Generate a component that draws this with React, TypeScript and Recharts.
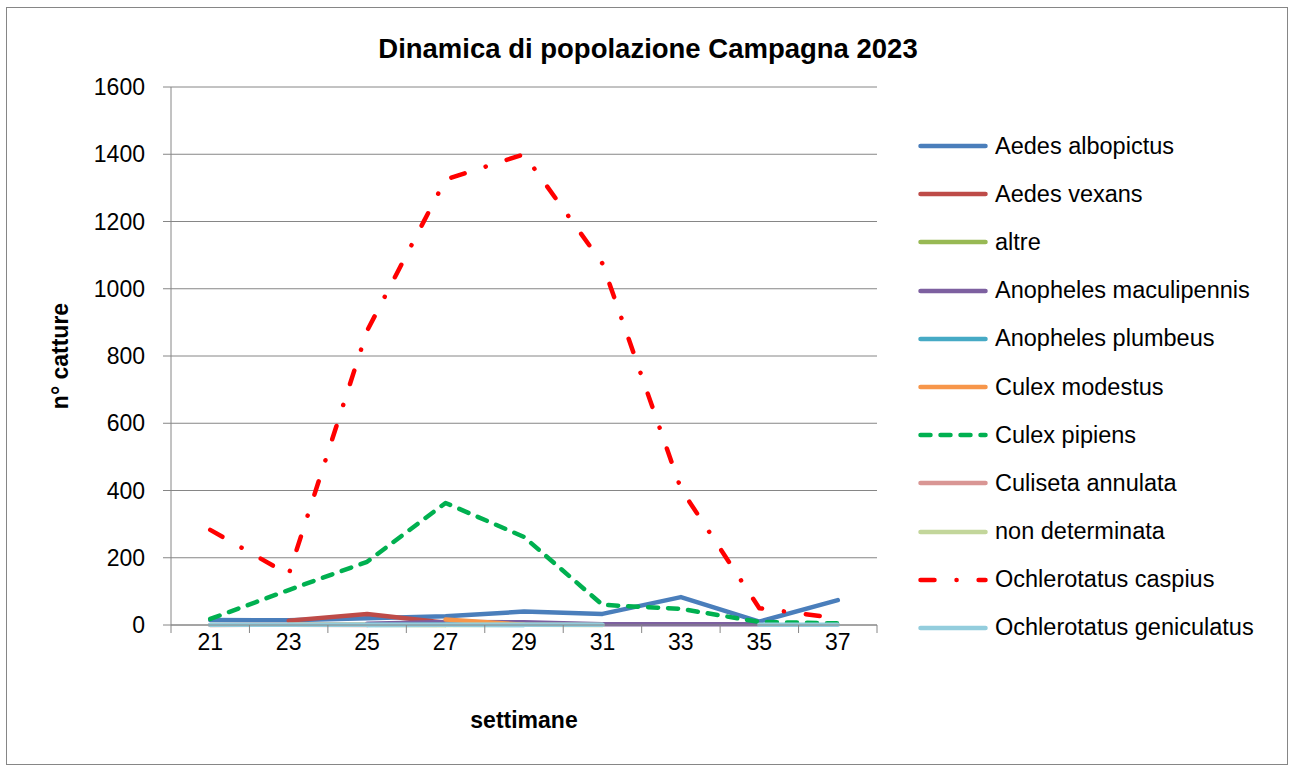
import { LineChart, Line, XAxis, YAxis, CartesianGrid, Legend } from "recharts";

const WEEKS = [21, 23, 25, 27, 29, 31, 33, 35, 37];
// category boundaries (Excel puts tick marks between categories)
const X_TICKS = [20, 21, 22, 23, 24, 25, 26, 27, 28, 29, 30, 31, 32, 33, 34, 35, 36, 37, 38];
const Y_TICKS = [0, 200, 400, 600, 800, 1000, 1200, 1400, 1600];

const AEDES_ALBOPICTUS = [15, 14, 20, 26, 40, 33, 83, 10, 74];
const AEDES_VEXANS = [null, 13, 33, 7, null, null, null, null, null];
const ALTRE = [null, 1, 1, 0, null, null, null, null, null];
const ANOPHELES_MACULIPENNIS = [null, null, 4, 9, 8, 2, 2, 2, null];
const ANOPHELES_PLUMBEUS = [null, null, 0, 1, 0, null, null, null, null];
const CULEX_MODESTUS = [null, null, null, 16, 1, null, null, null, null];
const CULEX_PIPIENS = [18, 104, 188, 363, 262, 60, 48, 9, 5];
const CULISETA_ANNULATA = [0, 1, 0, null, null, null, null, null, null];
const NON_DETERMINATA = [null, null, null, 0, 1, 0, null, null, null];
const OCHLEROTATUS_CASPIUS = [283, 150, 875, 1325, 1400, 1075, 405, 50, 20];
const OCHLEROTATUS_GENICULATUS = [1, 1, 1, 1, 1, 1, null, 1, 1];

const SERIES = [
  { key: "albopictus", name: "Aedes albopictus", color: "#4A7EBB", values: AEDES_ALBOPICTUS },
  { key: "vexans", name: "Aedes vexans", color: "#BE4B48", values: AEDES_VEXANS },
  { key: "altre", name: "altre", color: "#98B954", values: ALTRE },
  { key: "maculipennis", name: "Anopheles maculipennis", color: "#7D60A0", values: ANOPHELES_MACULIPENNIS },
  { key: "plumbeus", name: "Anopheles plumbeus", color: "#46AAC5", values: ANOPHELES_PLUMBEUS },
  { key: "modestus", name: "Culex modestus", color: "#F7964A", values: CULEX_MODESTUS },
  { key: "pipiens", name: "Culex pipiens", color: "#00B050", values: CULEX_PIPIENS, dash: "10 10" },
  { key: "annulata", name: "Culiseta annulata", color: "#D99694", values: CULISETA_ANNULATA },
  { key: "nondet", name: "non determinata", color: "#C3D69B", values: NON_DETERMINATA },
  { key: "caspius", name: "Ochlerotatus caspius", color: "#FF0000", values: OCHLEROTATUS_CASPIUS, dash: "14 22 0.1 22" },
  { key: "geniculatus", name: "Ochlerotatus geniculatus", color: "#93CDDD", values: OCHLEROTATUS_GENICULATUS },
];

const data = WEEKS.map((w, i) => {
  const row: any = { week: w };
  SERIES.forEach((s) => (row[s.key] = s.values[i]));
  return row;
});

const FONT = "'Liberation Sans', Arial, sans-serif";
const GRAY = "#868686";

const WeekTick = (props: any) => {
  const { x, y, payload } = props;
  if (!WEEKS.includes(payload.value)) {
    return <line x1={x} x2={x} y1={y} y2={y + 8} stroke={GRAY} strokeWidth={1} />;
  }
  return (
    <text x={x} y={y + 17} textAnchor="middle" dominantBaseline="central" fontSize={23} fontFamily={FONT} fill="#000">
      {payload.value}
    </text>
  );
};

const LegendBox = () => (
  <div style={{ fontFamily: FONT, fontSize: 23.5, color: "#000" }}>
    {SERIES.map((s) => (
      <div key={s.key} style={{ height: 48.2, display: "flex", alignItems: "center", whiteSpace: "nowrap" }}>
        <svg width={77} height={10} style={{ flex: "none" }}>
          <line x1={2.5} x2={67.5} y1={5} y2={5} stroke={s.color} strokeWidth={4.5} strokeLinecap="round" strokeDasharray={s.dash} />
        </svg>
        <span>{s.name}</span>
      </div>
    ))}
  </div>
);

export default function App() {
  return (
    <div
      style={{
        position: "absolute",
        left: 6,
        top: 7,
        width: 1280,
        height: 756,
        border: `1px solid ${GRAY}`,
        background: "#fff",
        fontFamily: FONT,
      }}
    >
      <LineChart width={1280} height={756} data={data} margin={{ top: 79, right: 410, bottom: 99, left: 0 }}>
        <text x={641} y={40} textAnchor="middle" dominantBaseline="central" fontSize={27.5} fontWeight="bold" fontFamily={FONT} fill="#000">
          Dinamica di popolazione Campagna 2023
        </text>
        <CartesianGrid vertical={false} stroke={GRAY} strokeWidth={1} />
        <XAxis
          dataKey="week"
          type="number"
          domain={[20, 38]}
          ticks={X_TICKS}
          interval={0}
          tickLine={false}
          tickSize={0}
          tickMargin={0}
          axisLine={{ stroke: GRAY }}
          height={40}
          tick={<WeekTick />}
          label={(p: any) => (
            <text
              x={p.viewBox.x + p.viewBox.width / 2}
              y={p.viewBox.y + 95}
              textAnchor="middle"
              dominantBaseline="central"
              fontSize={23}
              fontWeight="bold"
              fontFamily={FONT}
              fill="#000"
            >
              settimane
            </text>
          )}
        />
        <YAxis
          domain={[0, 1600]}
          ticks={Y_TICKS}
          interval={0}
          width={164}
          tickSize={8}
          tickMargin={18}
          axisLine={{ stroke: GRAY }}
          tickLine={{ stroke: GRAY }}
          tick={{ fontSize: 23, fontFamily: FONT, fill: "#000" }}
          label={(p: any) => {
            const cx = p.viewBox.x + 53;
            const cy = p.viewBox.y + p.viewBox.height / 2;
            return (
              <text
                x={cx}
                y={cy}
                transform={`rotate(-90 ${cx} ${cy})`}
                textAnchor="middle"
                dominantBaseline="central"
                fontSize={23}
                fontWeight="bold"
                fontFamily={FONT}
                fill="#000"
              >
                n° catture
              </text>
            );
          }}
        />
        <Legend
          layout="vertical"
          align="center"
          verticalAlign="middle"
          wrapperStyle={{ left: 911, top: 114, width: 365 }}
          content={<LegendBox />}
        />
        {SERIES.map((s) => (
          <Line
            key={s.key}
            type="linear"
            dataKey={s.key}
            name={s.name}
            stroke={s.color}
            strokeWidth={4.5}
            strokeDasharray={s.dash}
            strokeLinecap="round"
            strokeLinejoin="round"
            dot={false}
            activeDot={false}
            isAnimationActive={false}
          />
        ))}
      </LineChart>
    </div>
  );
}
